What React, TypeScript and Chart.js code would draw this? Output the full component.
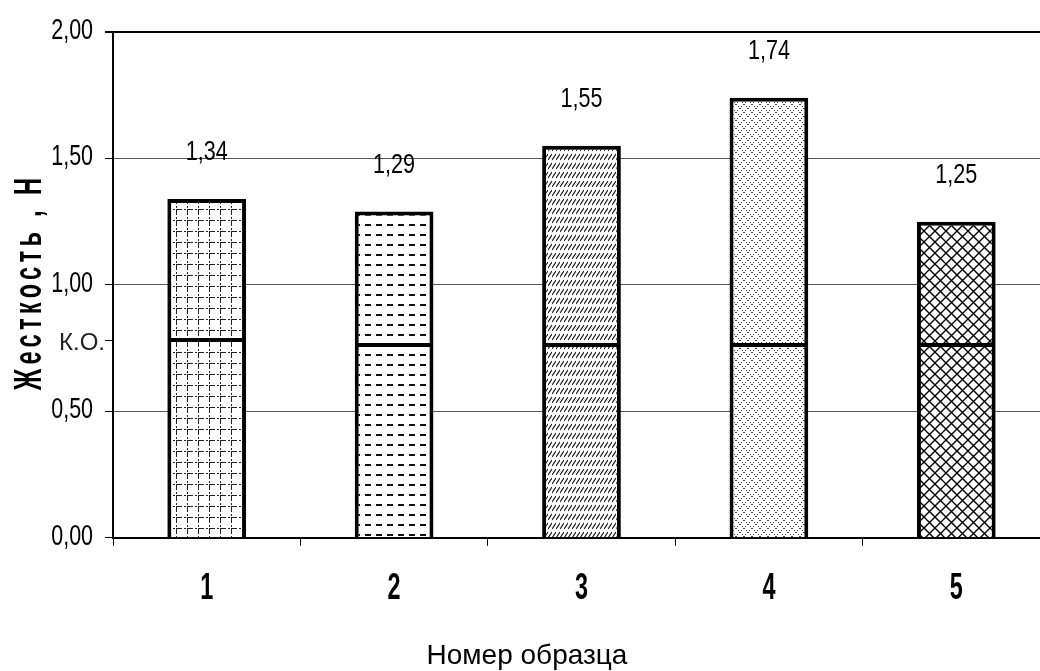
import React, { useEffect, useRef } from 'react';
import { Chart, registerables } from 'chart.js';

Chart.register(...registerables);

const categories = ['1', '2', '3', '4', '5'];
const stiffness = [1.34, 1.29, 1.55, 1.74, 1.25];
const koLevels = [0.79, 0.77, 0.77, 0.77, 0.77];
const valueLabels = ['1,34', '1,29', '1,55', '1,74', '1,25'];
const yTickValues = [0, 0.5, 1, 1.5, 2];
const koTickValue = 0.78;
const koLabel = 'К.О.';
const yTitle = 'Жесткость , Н';
const xTitle = 'Номер образца';

const COND = '"DejaVu Sans Condensed", sans-serif';
const SANS = '"Liberation Sans", Arial, sans-serif';

function makePattern(kind: number): CanvasPattern | string {
  const c = document.createElement('canvas');
  const g = c.getContext('2d');
  if (!g) return '#fff';
  if (kind === 0) {
    c.width = 11; c.height = 11;
    g.fillStyle = '#fff'; g.fillRect(0, 0, 11, 11);
    g.fillStyle = '#222';
    g.fillRect(0, 0, 6, 1); g.fillRect(8, 0, 2, 1);
    g.fillRect(0, 0, 1, 6); g.fillRect(0, 8, 1, 2);
  } else if (kind === 1) {
    c.width = 11; c.height = 10;
    g.fillStyle = '#fff'; g.fillRect(0, 0, 11, 10);
    g.fillStyle = '#111';
    g.fillRect(2, 4, 6, 2);
  } else if (kind === 2) {
    c.width = 4; c.height = 9;
    g.fillStyle = '#fff'; g.fillRect(0, 0, 4, 9);
    g.strokeStyle = '#111'; g.lineWidth = 1.2;
    g.beginPath(); g.moveTo(0, 7); g.lineTo(4, 1); g.stroke();
  } else if (kind === 3) {
    c.width = 8; c.height = 8;
    g.fillStyle = '#fff'; g.fillRect(0, 0, 8, 8);
    g.fillStyle = '#444';
    for (let i = 0; i < 8; i += 2) {
      g.fillRect(i, i, 1, 1);
      g.fillRect(7 - i, i, 1, 1);
    }
  } else {
    c.width = 11; c.height = 11;
    g.fillStyle = '#fff'; g.fillRect(0, 0, 11, 11);
    g.strokeStyle = '#000'; g.lineWidth = 1.4;
    g.beginPath();
    g.moveTo(-1, -1); g.lineTo(12, 12);
    g.moveTo(12, -1); g.lineTo(-1, 12);
    g.stroke();
  }
  return g.createPattern(c, 'repeat') || '#fff';
}

const fmt = (v: number) => v.toFixed(2).replace('.', ',');

function drawScaled(ctx: CanvasRenderingContext2D, text: string, x: number, y: number, font: string, sx: number, align: CanvasTextAlign) {
  ctx.save();
  ctx.translate(x, y);
  ctx.scale(sx, 1);
  ctx.font = font;
  ctx.textAlign = align;
  ctx.textBaseline = 'alphabetic';
  ctx.fillText(text, 0, 0);
  ctx.restore();
}

export default function App() {
  const ref = useRef<HTMLCanvasElement | null>(null);

  useEffect(() => {
    if (!ref.current) return;
    const patterns = categories.map((_, i) => makePattern(i));
    const upper = stiffness.map((v, i) => +(v - koLevels[i]).toFixed(3));

    const annot = {
      id: 'annot',
      afterDatasetsDraw(chart: any) {
        const { ctx, scales } = chart;
        const x = scales.x, y = scales.y;
        ctx.save();
        ctx.fillStyle = '#000';
        stiffness.forEach((v, i) => {
          drawScaled(ctx, valueLabels[i], x.getPixelForValue(i), y.getPixelForValue(v) - 39, `27px ${SANS}`, 0.8, 'center');
        });
        yTickValues.forEach((v) => {
          drawScaled(ctx, fmt(v), x.left - 20, y.getPixelForValue(v) + 7, `29px ${SANS}`, 0.74, 'right');
        });
        categories.forEach((c, i) => {
          drawScaled(ctx, c, x.getPixelForValue(i), 599, `bold 36px ${SANS}`, 0.65, 'center');
        });
        ctx.fillStyle = '#222';
        ctx.font = `24px ${SANS}`;
        ctx.textAlign = 'right';
        ctx.textBaseline = 'alphabetic';
        ctx.fillText(koLabel, x.left - 8, y.getPixelForValue(koTickValue) + 9);
        ctx.restore();

        ctx.save();
        ctx.fillStyle = '#000';
        ctx.font = `28px ${SANS}`;
        ctx.textAlign = 'center';
        ctx.textBaseline = 'alphabetic';
        ctx.fillText(xTitle, 527, 664);
        ctx.restore();

        ctx.save();
        ctx.translate(41, 282);
        ctx.rotate(-Math.PI / 2);
        ctx.scale(0.62, 1);
        ctx.fillStyle = '#000';
        ctx.font = `bold 38px ${SANS}`;
        (ctx as any).letterSpacing = '7px';
        ctx.textAlign = 'center';
        ctx.textBaseline = 'alphabetic';
        ctx.fillText(yTitle, 0, 0);
        ctx.restore();
      },
    };

    const chart = new Chart(ref.current, {
      type: 'bar',
      data: {
        labels: categories,
        datasets: [
          {
            data: koLevels,
            backgroundColor: patterns as any,
            borderColor: '#000',
            borderWidth: 4,
            borderSkipped: 'start',
            stack: 's',
          },
          {
            data: upper,
            backgroundColor: patterns as any,
            borderColor: '#000',
            borderWidth: 4,
            borderSkipped: 'start',
            stack: 's',
          },
        ],
      },
      options: {
        responsive: false,
        animation: false,
        devicePixelRatio: 1,
        categoryPercentage: 1,
        barPercentage: 0.42,
        layout: { padding: { left: 0, right: 10, top: 32, bottom: 12 } },
        plugins: {
          legend: { display: false },
          tooltip: { enabled: false },
          title: { display: false },
        },
        scales: {
          x: {
            stacked: true,
            offset: true,
            grid: {
              display: true,
              offset: true,
              drawOnChartArea: false,
              drawTicks: true,
              tickLength: 8,
              color: '#000',
            },
            border: { display: true, color: '#000', width: 2 },
            ticks: {
              color: 'rgba(0,0,0,0)',
              font: { family: COND, size: 26, weight: 'bold' },
              padding: 41,
              autoSkip: false,
              maxRotation: 0,
            },
          },
          y: {
            stacked: true,
            min: 0,
            max: 2,
            afterBuildTicks: (s: any) => {
              s.ticks = [...yTickValues, koTickValue].sort((a, b) => a - b).map((v) => ({ value: v }));
            },
            afterFit: (s: any) => { s.width = 113; },
            grid: {
              color: (c: any) => {
                const v = c.tick?.value;
                if (v === koTickValue) return 'rgba(0,0,0,0)';
                if (v === 2) return '#000';
                return '#555';
              },
              lineWidth: (c: any) => (c.tick?.value === 2 ? 2 : 1),
              tickColor: '#000',
              tickLength: 8,
              drawTicks: true,
            },
            border: { display: true, color: '#000', width: 2 },
            ticks: {
              color: 'rgba(0,0,0,0)',
              font: { family: COND, size: 25 },
              padding: 12,
              callback: (v: any) => (v === koTickValue ? '' : fmt(Number(v))),
            },
          },
        },
      },
      plugins: [annot],
    });
    return () => chart.destroy();
  }, []);

  return (
    <div style={{ position: 'fixed', left: 0, top: 0, width: 1040, height: 671, overflow: 'hidden', background: '#fff' }}>
      <canvas ref={ref} width={1060} height={671} style={{ display: 'block', width: 1060, height: 671 }} />
    </div>
  );
}
